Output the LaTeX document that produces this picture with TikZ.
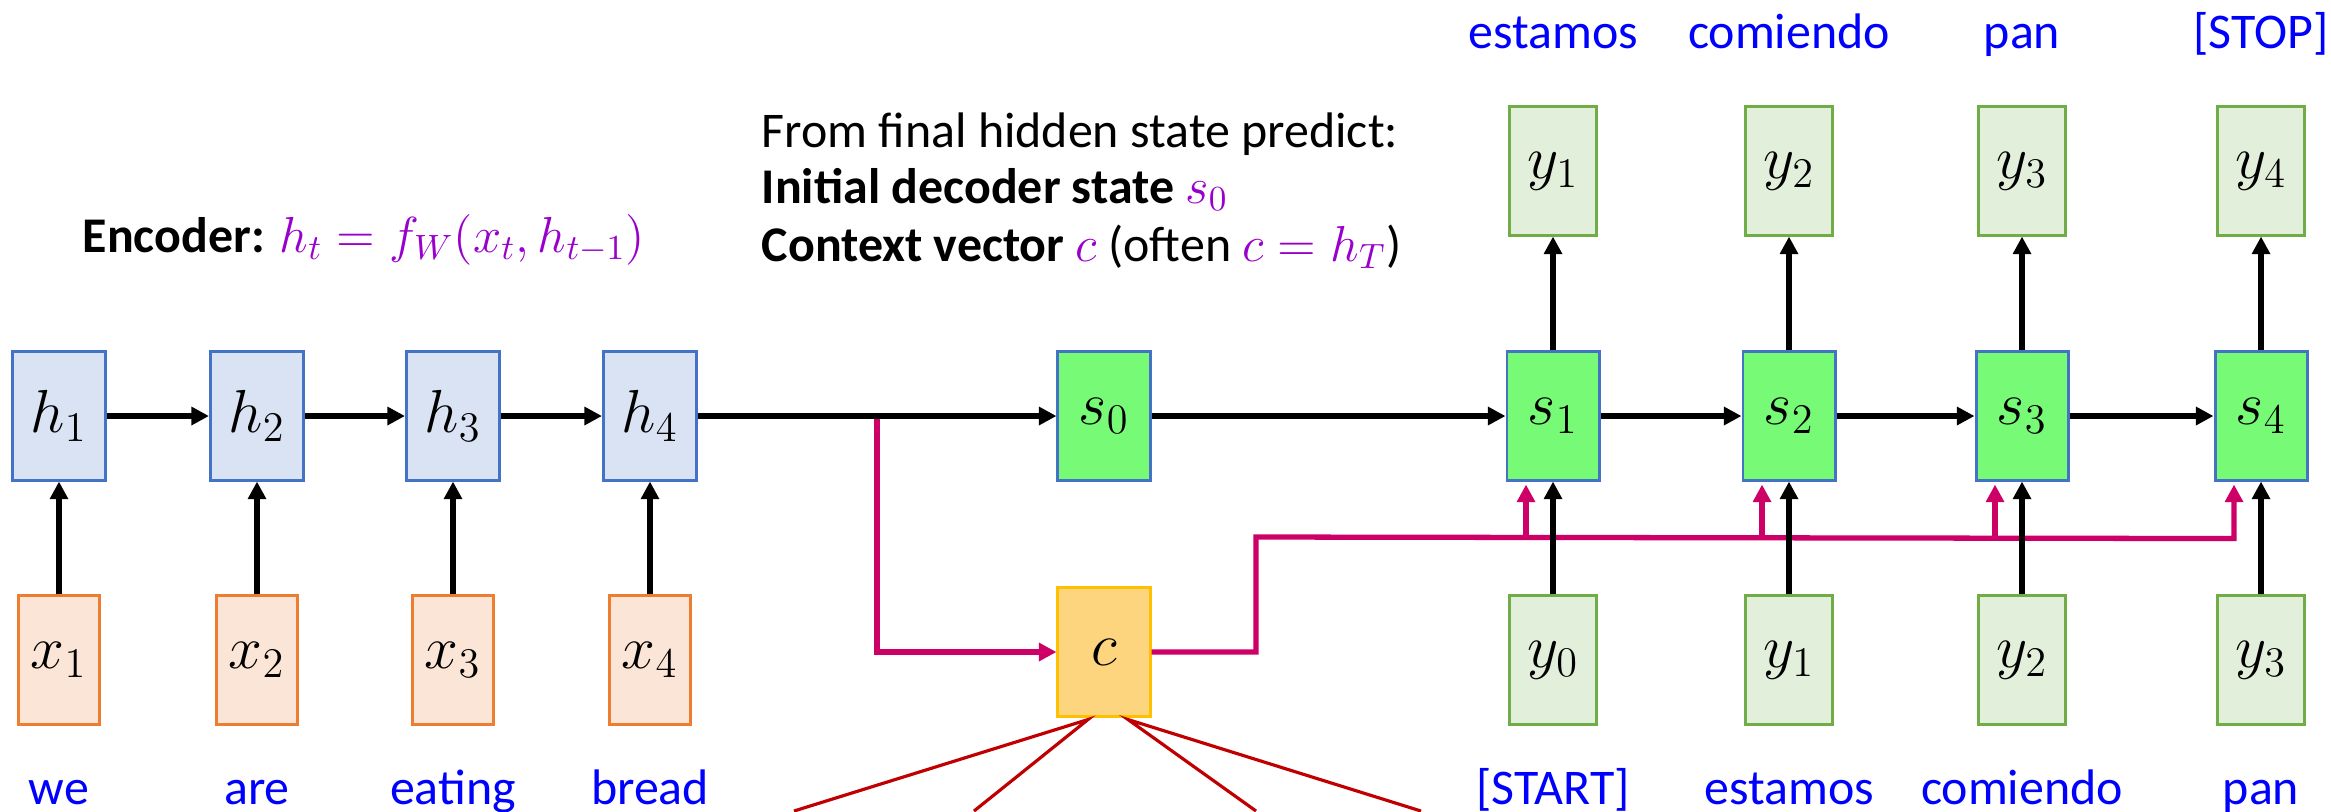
\documentclass[tikz,border=0pt]{standalone}
\usepackage{fontspec}
\setmainfont{Carlito}
\usetikzlibrary{arrows.meta,calc}
\definecolor{hfill}{HTML}{DAE3F3}
\definecolor{hdraw}{HTML}{4472C4}
\definecolor{xfill}{HTML}{FBE5D6}
\definecolor{xdraw}{HTML}{ED7D31}
\definecolor{sfill}{HTML}{77FB77}
\definecolor{cfill}{HTML}{FDD57E}
\definecolor{cdraw}{HTML}{FFC000}
\definecolor{yfill}{HTML}{E2EFDA}
\definecolor{ydraw}{HTML}{70AD47}
\definecolor{wordblue}{HTML}{0000FF}
\definecolor{mathpurple}{HTML}{9900CC}
\definecolor{linkpink}{HTML}{CC0066}
\definecolor{forkred}{HTML}{C00000}
\begin{document}
\begin{tikzpicture}[x=0.01cm,y=-0.01cm,
  box/.style={draw, line width=0.85pt, minimum height=1.28cm, inner sep=0pt,
    font=\fontsize{16.5}{19}\selectfont},
  hbox/.style={box, fill=hfill, draw=hdraw, minimum width=0.93cm},
  xbox/.style={box, fill=xfill, draw=xdraw, minimum width=0.81cm},
  sbox/.style={box, fill=sfill, draw=hdraw, minimum width=0.92cm},
  cbox/.style={box, fill=cfill, draw=cdraw, minimum width=0.92cm},
  ybox/.style={box, fill=yfill, draw=ydraw, minimum width=0.87cm},
  word/.style={anchor=base, inner sep=0pt, text=wordblue, font=\fontsize{14.2}{17}\selectfont},
  caption/.style={anchor=base west, inner sep=0pt, font=\fontsize{14.2}{17}\selectfont},
  arr/.style={line width=1.5pt, -{Triangle[length=5pt,width=5pt]}},
  pinkarr/.style={draw=linkpink, line width=1.5pt, -{Triangle[length=5pt,width=5pt]}, fill=none},
  forkline/.style={draw=forkred, line width=0.9pt}
]
\useasboundingbox (0,0) rectangle (2331,811);

% encoder
\node[hbox] (h1) at (59,416) {$h_1$};
\node[hbox] (h2) at (257,416) {$h_2$};
\node[hbox] (h3) at (453,416) {$h_3$};
\node[hbox] (h4) at (650,416) {$h_4$};
\node[xbox] (x1) at (59,660) {$x_1$};
\node[xbox] (x2) at (257,660) {$x_2$};
\node[xbox] (x3) at (453,660) {$x_3$};
\node[xbox] (x4) at (650,660) {$x_4$};
\node[word] (w1) at (59,804) {we};
\node[word] (w2) at (257,804) {are};
\node[word] (w3) at (453,804) {eating};
\node[word] (w4) at (650,804) {bread};

% middle
\node[sbox] (s0) at (1104,416) {$s_0$};
\node[cbox] (c) at (1104,652) {$c$};

% decoder
\node[sbox] (s1) at (1553,416) {$s_1$};
\node[sbox] (s2) at (1789,416) {$s_2$};
\node[sbox] (s3) at (2022,416) {$s_3$};
\node[sbox] (s4) at (2261,416) {$s_4$};
\node[ybox] (yt1) at (1553,171) {$y_1$};
\node[ybox] (yt2) at (1789,171) {$y_2$};
\node[ybox] (yt3) at (2022,171) {$y_3$};
\node[ybox] (yt4) at (2261,171) {$y_4$};
\node[ybox] (yb0) at (1553,660) {$y_0$};
\node[ybox] (yb1) at (1789,660) {$y_1$};
\node[ybox] (yb2) at (2022,660) {$y_2$};
\node[ybox] (yb3) at (2261,660) {$y_3$};
\node[word] (ot1) at (1553,48) {estamos};
\node[word] (ot2) at (1789,48) {comiendo};
\node[word] (ot3) at (2022,48) {pan};
\node[word] (ot4) at (2261,48) {[STOP]};
\node[word] (in0) at (1553,804) {[START]};
\node[word] (in1) at (1789,804) {estamos};
\node[word] (in2) at (2022,804) {comiendo};
\node[word] (in3) at (2261,804) {pan};

% captions
\node[caption] (enc) at (82,252) {\textbf{Encoder:} \textcolor{mathpurple}{$h_t = f_W(x_t, h_{t-1})$}};
\node[caption] (info1) at (761,147) {From final hidden state predict:};
\node[caption] (info2) at (761,203) {\textbf{Initial decoder state} \textcolor{mathpurple}{$s_0$}};
\node[caption] (info3) at (761,261) {\textbf{Context vector} \textcolor{mathpurple}{$c$} (often \textcolor{mathpurple}{$c = h_T$})};

% pink context paths (under black)
\coordinate (pfork) at (877,416);
\coordinate (prise) at (1256,537);
\draw[pinkarr] (h4.east) -- (pfork) |- (c.west);
\draw[pinkarr] (c.east) -| (prise) -- ($(s4.south)+(-27,57)$) -- ($(s4.south)+(-27,3)$);
\foreach \s in {s1,s2,s3}
  \draw[pinkarr] ($(\s.south)+(-27,57)$) -- ($(\s.south)+(-27,3)$);

% red fork lines
\coordinate (fa) at ($(c.south)+(-16,2)$);
\coordinate (fb) at ($(c.south)+(24,2)$);
\coordinate (r1) at (794,811);
\coordinate (r2) at (974,811);
\coordinate (r3) at (1256,811);
\coordinate (r4) at (1421,811);
\draw[forkline] (r1) -- (fa) -- (r2);
\draw[forkline] (r3) -- (fb) -- (r4);

% black arrows
\draw[arr] (h1.east) -- (h2.west);
\draw[arr] (h2.east) -- (h3.west);
\draw[arr] (h3.east) -- (h4.west);
\draw[arr] (h4.east) -- (s0.west);
\draw[arr] (s0.east) -- (s1.west);
\draw[arr] (s1.east) -- (s2.west);
\draw[arr] (s2.east) -- (s3.west);
\draw[arr] (s3.east) -- (s4.west);
\draw[arr] (x1.north) -- (h1.south);
\draw[arr] (x2.north) -- (h2.south);
\draw[arr] (x3.north) -- (h3.south);
\draw[arr] (x4.north) -- (h4.south);
\draw[arr] (yb0.north) -- (s1.south);
\draw[arr] (yb1.north) -- (s2.south);
\draw[arr] (yb2.north) -- (s3.south);
\draw[arr] (yb3.north) -- (s4.south);
\draw[arr] (s1.north) -- (yt1.south);
\draw[arr] (s2.north) -- (yt2.south);
\draw[arr] (s3.north) -- (yt3.south);
\draw[arr] (s4.north) -- (yt4.south);
\end{tikzpicture}
\end{document}
